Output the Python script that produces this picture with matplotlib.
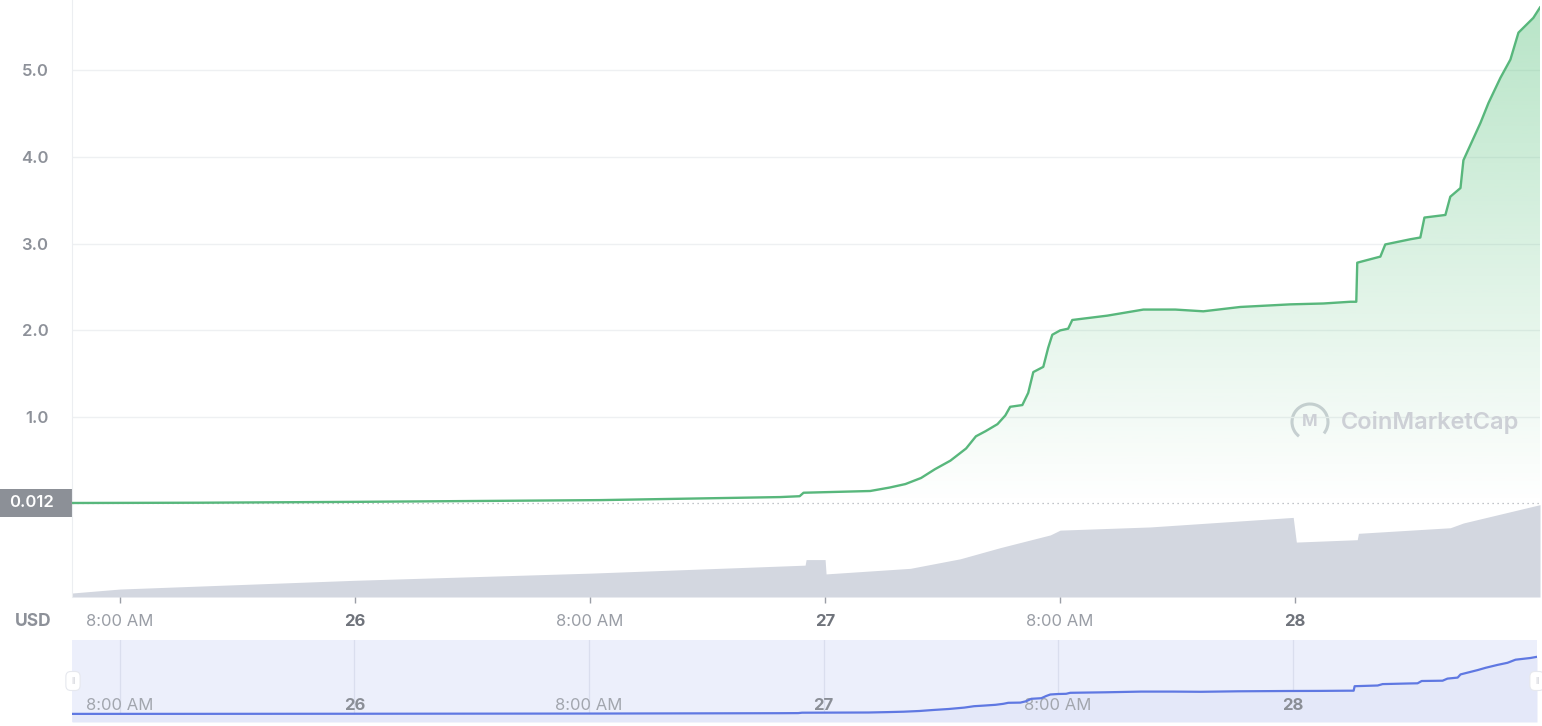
import matplotlib
matplotlib.use("Agg")
import matplotlib.pyplot as plt
import matplotlib.transforms as mtransforms
import numpy as np
from matplotlib.patches import Rectangle, Arc

plt.rcParams["font.family"] = ["Inter", "DejaVu Sans"]

# Hours counted from midnight of the 26th.
PRICE_HOURS = [-14.45, -7.9, 0.0, 12.5, 21.7, 22.7, 22.9, 26.3, 27.3, 28.1, 28.9, 29.6,
               30.4, 31.2, 31.7, 32.2, 32.8, 33.2, 33.45, 34.07, 34.37, 34.63, 35.14,
               35.39, 35.6, 36.0, 36.41, 36.62, 38.41, 40.25, 41.88, 43.31, 45.2, 47.75,
               49.44, 50.82, 51.12, 51.17, 51.84, 52.35, 52.6, 53.88, 54.39, 54.6, 55.67,
               55.92, 56.44, 56.59, 57.46, 57.87, 58.48, 58.99, 59.4, 60.16, 60.5]
PRICE_USD = [0.012, 0.015, 0.025, 0.045, 0.08, 0.09, 0.13, 0.15, 0.19, 0.23, 0.30, 0.40,
             0.50, 0.64, 0.78, 0.84, 0.92, 1.02, 1.12, 1.14, 1.28, 1.52, 1.58,
             1.80, 1.95, 2.00, 2.02, 2.12, 2.17, 2.24, 2.24, 2.22, 2.27, 2.30,
             2.31, 2.33, 2.33, 2.78, 2.82, 2.85, 2.99, 3.05, 3.07, 3.30, 3.33,
             3.54, 3.64, 3.96, 4.39, 4.62, 4.91, 5.12, 5.43, 5.60, 5.72]

VOLUME_HOURS = [-14.45, -12.0, 0.0, 12.05, 22.98, 23.03, 24.0, 24.05, 28.35, 30.9, 32.94,
                35.5, 36.0, 40.6, 47.9, 48.06, 51.17, 51.23, 55.92, 56.59, 60.5]
VOLUME_M = [0.5, 1.0, 2.1, 3.0, 4.0, 4.7, 4.7, 2.9, 3.6, 4.8, 6.2,
            7.8, 8.4, 8.8, 10.0, 6.9, 7.2, 8.0, 8.7, 9.3, 11.6]

TICK_HOURS = [-12, 0, 12, 24, 36, 48]
TICK_LABELS = ["8:00 AM", "26", "8:00 AM", "27", "8:00 AM", "28"]
DAY_LABELS = {"26", "27", "28"}
PRICE_TICKS = [1.0, 2.0, 3.0, 4.0, 5.0]
BASE_PRICE = 0.012
BASE_LABEL = "0.012"

X_MIN, X_MAX = -14.45, 60.5

W, H = 1542, 726
fig = plt.figure(figsize=(W / 100, H / 100), dpi=100, facecolor="white")

main_rect = [72 / W, 1 - 597 / H, 1468 / W, 597 / H]

# Volume sits behind the price panel.
ax_v = fig.add_axes(main_rect, zorder=0)
ax_v.fill_between(VOLUME_HOURS, VOLUME_M, 0, color="#d3d7e0", lw=0)
ax_v.set_xlim(X_MIN, X_MAX)
ax_v.set_ylim(0, 75)
ax_v.axis("off")

ax = fig.add_axes(main_rect, zorder=1)
ax.patch.set_visible(False)
ax.set_xlim(X_MIN, X_MAX)
ax.set_ylim(-1.071, 5.806)

# Gradient fill under the price line.
poly = ax.fill_between(PRICE_HOURS, PRICE_USD, BASE_PRICE, color="none", lw=0)
n = 256
rgba = np.zeros((n, 1, 4))
rgba[..., 0] = 0.40
rgba[..., 1] = 0.78
rgba[..., 2] = 0.53
rgba[..., 3] = np.linspace(0.0, 0.47, n)[:, None]
im = ax.imshow(rgba, extent=[X_MIN, X_MAX, BASE_PRICE, 5.806], origin="lower",
               aspect="auto", zorder=1, interpolation="bilinear")
im.set_clip_path(poly.get_paths()[0], ax.transData)
ax.set_xlim(X_MIN, X_MAX)
ax.set_ylim(-1.071, 5.806)

ax.plot(PRICE_HOURS, PRICE_USD, color="#58b77c", lw=1.7, zorder=3, solid_joinstyle="round")
ax.axhline(BASE_PRICE, color="#aeb2b9", lw=0.9, ls=(0, (1, 3)), zorder=2)

for p in PRICE_TICKS:
    ax.axhline(p, color="#eef0f2", lw=1.0, zorder=0)

ax.set_yticks(PRICE_TICKS)
ax.set_yticklabels([f"{p:.1f}" for p in PRICE_TICKS])
ax.tick_params(axis="y", length=0, pad=17, labelsize=12, labelcolor="#8d9199")
for lab in ax.get_yticklabels():
    lab.set_fontweight("semibold")

ax.set_xticks(TICK_HOURS)
ax.set_xticklabels(TICK_LABELS)
ax.tick_params(axis="x", length=4, width=1, color="#9a9ea6", pad=8,
               labelsize=12, labelcolor="#9a9ea6")
for lab in ax.get_xticklabels():
    if lab.get_text() in DAY_LABELS:
        lab.set_fontweight("bold")
        lab.set_color("#6f737b")

for side in ["top", "right", "bottom"]:
    ax.spines[side].set_visible(False)
ax.spines["left"].set_color("#eceef1")

# Reference price tag on the left edge.
tag_tf = mtransforms.blended_transform_factory(fig.transFigure, ax.transData)
fig.add_artist(Rectangle((0, BASE_PRICE - 0.16), 72 / W, 0.32, transform=tag_tf,
                         facecolor="#8c9097", edgecolor="none", clip_on=False))
fig.text(31 / W, BASE_PRICE, BASE_LABEL, transform=tag_tf, ha="center", va="center",
         color="white", fontsize=12, fontweight="semibold")

fig.text(33 / W, 1 - 621 / H, "USD", ha="center", va="center", color="#8d9199",
         fontsize=12.5, fontweight="bold")

# Watermark.
fig.add_artist(Arc((1310 / W, 1 - 422 / H), 36 / W, 36 / H, theta1=-60, theta2=250,
                   transform=fig.transFigure, color="#cdd0d6", lw=2.2))
fig.text(1310 / W, 1 - 422 / H, "M", ha="center", va="center", color="#cdd0d6",
         fontsize=12, fontweight="bold")
fig.text(1341 / W, 1 - 422 / H, "CoinMarketCap", ha="left", va="center",
         color="#cdd0d6", fontsize=17, fontweight="semibold")

# Navigator strip.
ax_n = fig.add_axes([72 / W, 1 - 722 / H, 1465 / W, 82 / H], zorder=1)
ax_n.set_facecolor("#eceffb")
ax_n.set_xlim(X_MIN, X_MAX)
ax_n.set_ylim(-0.8, 7.4)
for t in TICK_HOURS:
    ax_n.axvline(t, color="#dadeee", lw=0.9, zorder=0)
ax_n.fill_between(PRICE_HOURS, PRICE_USD, -0.8, color="#e4e8f9", lw=0, zorder=1)
ax_n.plot(PRICE_HOURS, PRICE_USD, color="#5f78e2", lw=1.6, zorder=2)
ax_n.set_xticks(TICK_HOURS)
ax_n.set_xticklabels(TICK_LABELS)
ax_n.tick_params(axis="x", length=0, pad=-17, labelsize=12, labelcolor="#a2a6ae")
for lab in ax_n.get_xticklabels():
    lab.set_zorder(3)
    if lab.get_text() in DAY_LABELS:
        lab.set_fontweight("bold")
        lab.set_color("#8a8e96")
ax_n.set_yticks([])
for s in ax_n.spines.values():
    s.set_visible(False)

for hx in (73, 1537):
    fig.text(hx / W, 1 - 681 / H, "ǀǀ", ha="center", va="center", color="#c0c3cc",
             fontsize=6, bbox=dict(boxstyle="round,pad=0.6", facecolor="white",
                                   edgecolor="#e6e8ee", lw=0.8))

fig.savefig("out.png", dpi=100, facecolor="white")
